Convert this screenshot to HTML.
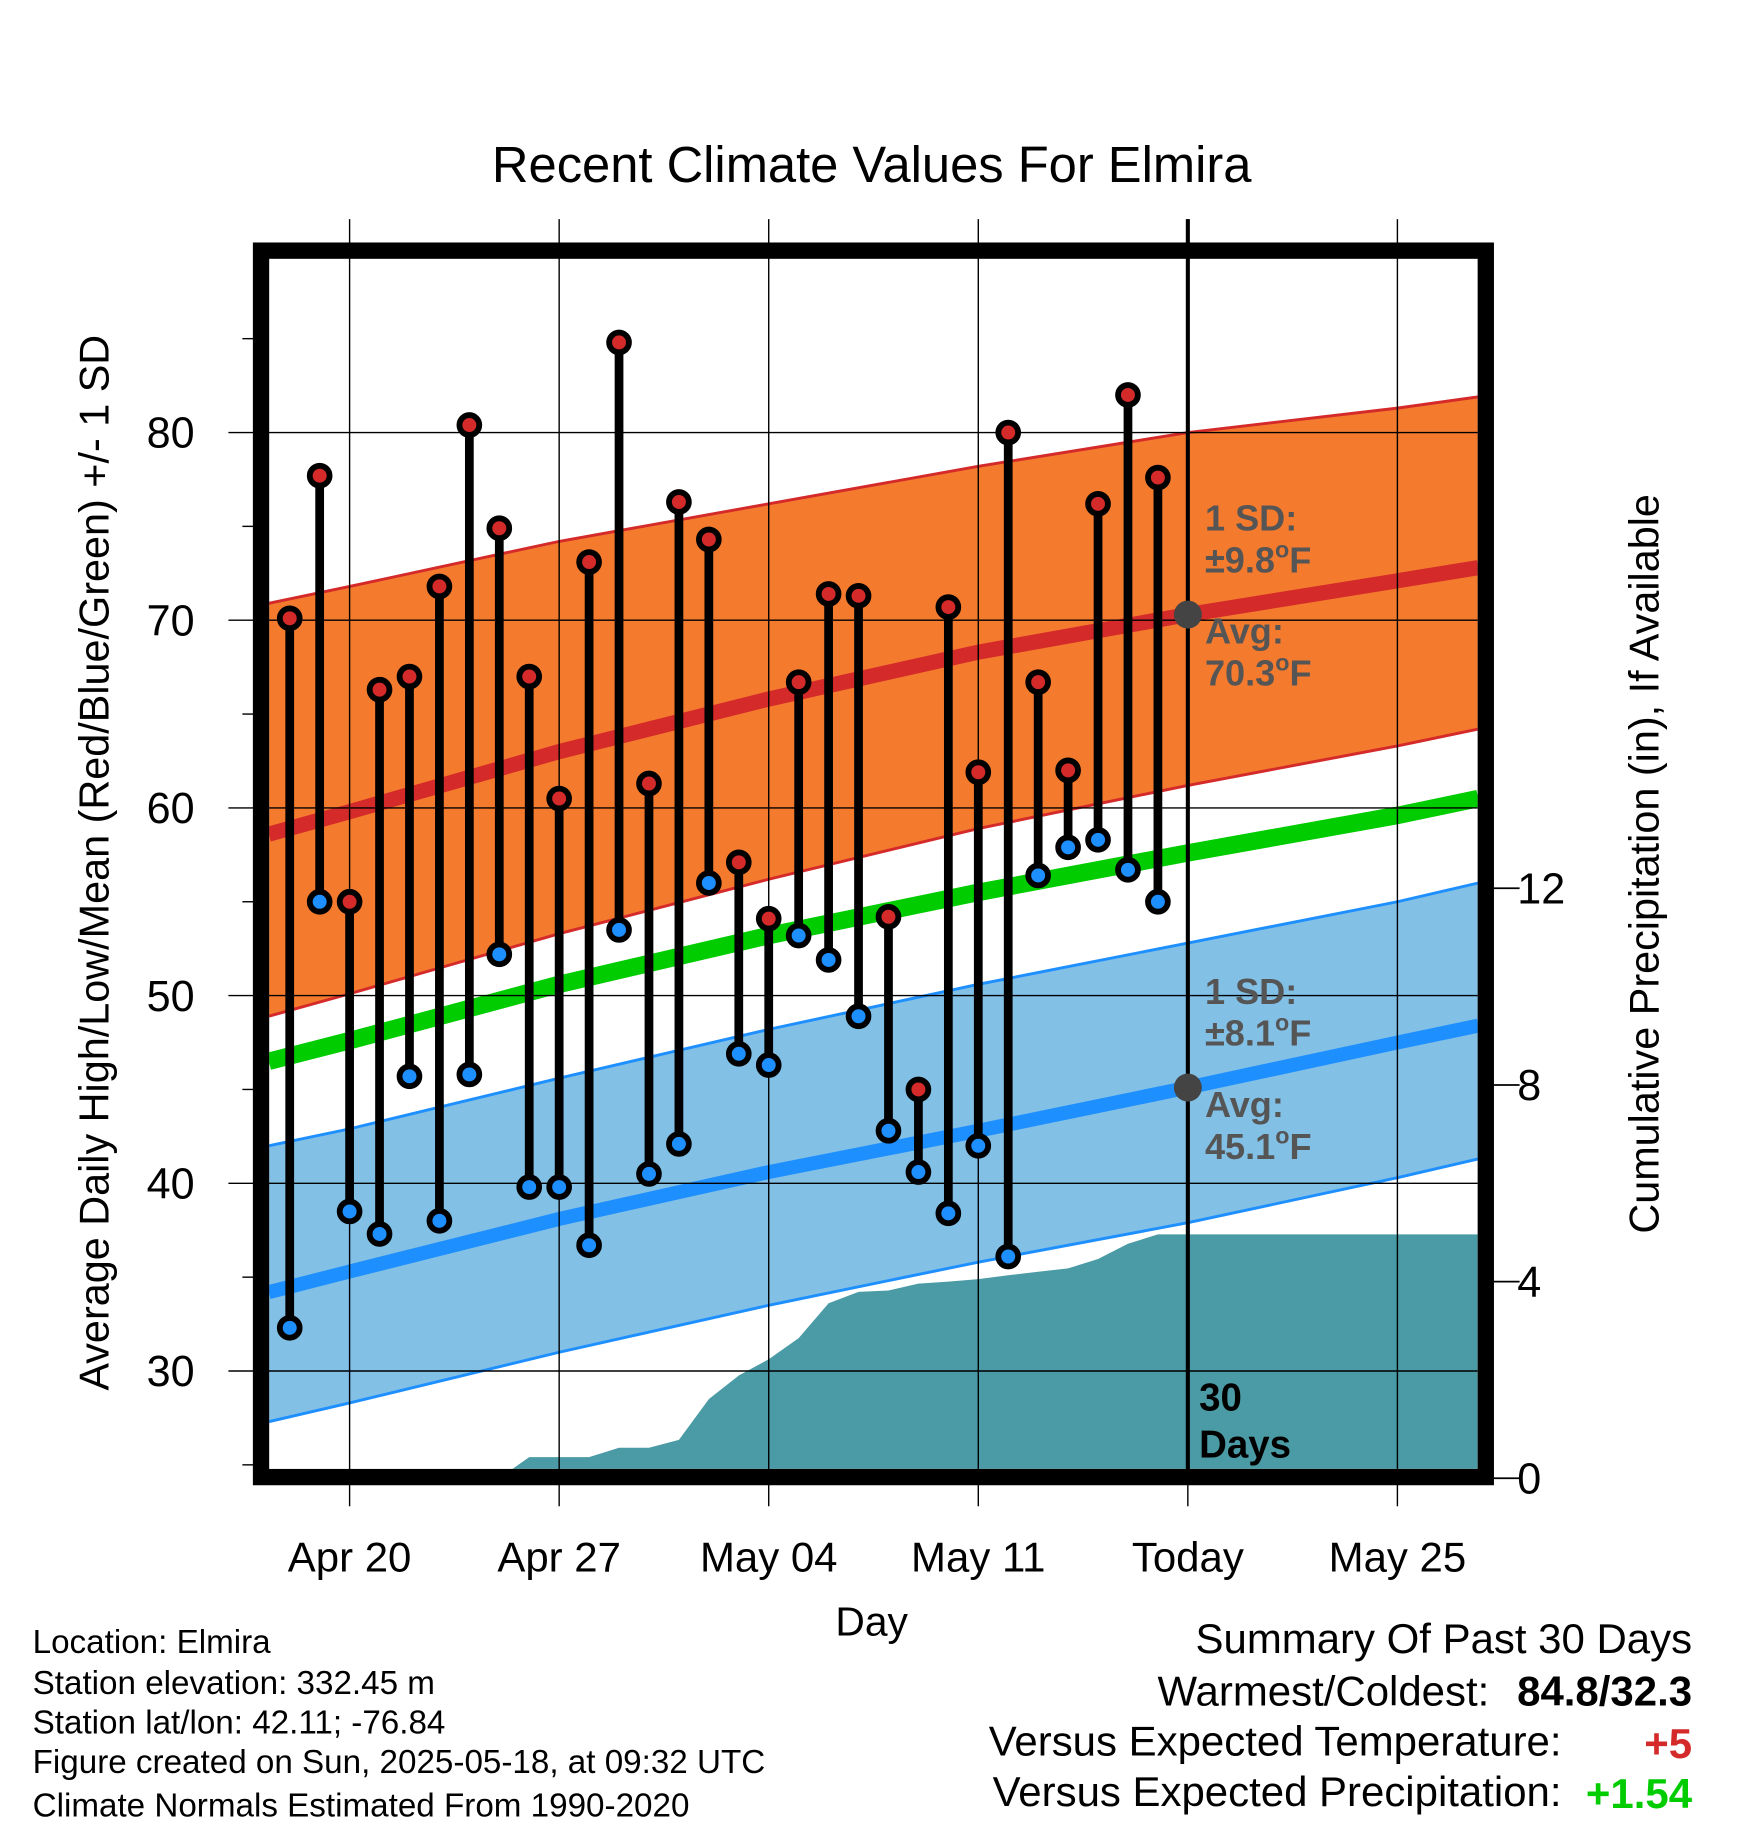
<!DOCTYPE html>
<html><head><meta charset="utf-8"><style>html,body{margin:0;padding:0;background:#fff}svg{display:block}text{font-family:"Liberation Sans",sans-serif}</style></head>
<body>
<svg id="chart" width="1748" height="1828" viewBox="0 0 1500 1568" preserveAspectRatio="none" xmlns="http://www.w3.org/2000/svg">
<defs><clipPath id="pc"><rect x="231" y="222" width="1037" height="1038"/></clipPath></defs>
<rect width="1500" height="1568" fill="#fff"/>
<text x="748" y="156" font-size="43.5" text-anchor="middle">Recent Climate Values For Elmira</text>
<g id="bands" clip-path="url(#pc)"></g>
<g id="grid"></g>
<g id="marks" clip-path="url(#pc)"></g>
<g id="frame"></g>
<g id="labels"></g>
<text transform="translate(93,740) rotate(-90)" font-size="35.5" text-anchor="middle">Average Daily High/Low/Mean (Red/Blue/Green) +/- 1 SD</text>
<text transform="translate(1423,741) rotate(-90)" font-size="35.5" text-anchor="middle">Cumulative Precipitation (in), If Available</text>
<text x="748" y="1403" font-size="35" text-anchor="middle">Day</text>
<g font-size="28.5">
<text x="28" y="1418">Location: Elmira</text>
<text x="28" y="1453">Station elevation: 332.45 m</text>
<text x="28" y="1487">Station lat/lon: 42.11; -76.84</text>
<text x="28" y="1521">Figure created on Sun, 2025-05-18, at 09:32 UTC</text>
<text x="28" y="1558">Climate Normals Estimated From 1990-2020</text>
</g>
<g font-size="36">
<text x="1452" y="1418" text-anchor="end">Summary Of Past 30 Days</text>
<text x="1278" y="1463" text-anchor="end">Warmest/Coldest:</text>
<text x="1452" y="1463" text-anchor="end" font-weight="bold">84.8/32.3</text>
<text x="1340" y="1506" text-anchor="end">Versus Expected Temperature:</text>
<text x="1452" y="1508" text-anchor="end" font-weight="bold" fill="#d42a2a">+5</text>
<text x="1340" y="1549" text-anchor="end">Versus Expected Precipitation:</text>
<text x="1452" y="1551" text-anchor="end" font-weight="bold" fill="#00cc00">+1.54</text>
</g>
</svg>
<script>
// data: day offsets relative to Apr 20
const highs=[70.1,77.7,55.0,66.3,67.0,71.8,80.4,74.9,67.0,60.5,73.1,84.8,61.3,76.3,74.3,57.1,54.1,66.7,71.4,71.3,54.2,45.0,70.7,61.9,80.0,66.7,62.0,76.2,82.0,77.6];
const lows=[32.3,55.0,38.5,37.3,45.7,38.0,45.8,52.2,39.8,39.8,36.7,53.5,40.5,42.1,56.0,46.9,46.3,53.2,51.9,48.9,42.8,40.6,38.4,42.0,36.1,56.4,57.9,58.3,56.7,55.0];
const precip=[0,0,0,0,0,0,0,0,0.43,0.43,0.43,0.62,0.62,0.78,1.61,2.09,2.42,2.85,3.56,3.79,3.82,3.96,4.0,4.05,4.13,4.2,4.27,4.46,4.77,4.96];
const normDays=[-2.7,0,7,14,21,28,35,37.7];
const sdHighTop=[70.9,71.8,74.2,76.2,78.2,80.0,81.3,81.9];
const avgHigh=[58.6,59.8,63.0,65.8,68.3,70.3,72.1,72.8];
const sdHighBot=[48.9,50.1,53.3,56.2,58.9,61.2,63.3,64.2];
const avgMean=[46.5,47.6,50.6,53.2,55.5,57.6,59.6,60.5];
const sdLowTop=[42.0,42.9,45.6,48.2,50.6,52.8,55.0,56.0];
const avgLow=[34.2,35.3,38.1,40.6,42.8,45.1,47.5,48.4];
const sdLowBot=[27.3,28.3,31.0,33.5,35.8,37.9,40.3,41.3];
const xTicks=["Apr 20","Apr 27","May 04","May 11","Today","May 25"];
const yTicks=[30,40,50,60,70,80];
const y2Ticks=[0,4,8,12];
const firstDay=-2;
const NS="http://www.w3.org/2000/svg";
const X=d=>300+d*25.69, Y=t=>371+(80-t)*16.1, P=p=>1268-p*42.17;
function mk(tag,at,parent){const e=document.createElementNS(NS,tag);for(const k in at)e.setAttribute(k,at[k]);parent.appendChild(e);return e;}
const bands=document.getElementById('bands'),grid=document.getElementById('grid'),marks=document.getElementById('marks'),frame=document.getElementById('frame'),labels=document.getElementById('labels');
function pts(arr){return normDays.map((d,i)=>X(d)+','+Y(arr[i]));}
function band(top,bot,fill,stroke,name){
  const p=mk('polygon',{points:pts(top).concat(pts(bot).reverse()).join(' '),fill:fill},bands);
  
  
  [top,bot].forEach(a=>{const l=mk('polyline',{points:pts(a).join(' '),fill:'none',stroke:stroke,'stroke-width':2.5},bands);
  
  });
}
band(sdHighTop,sdHighBot,'#f47a2e','#d42a2a','high-sd-band');
band(sdLowTop,sdLowBot,'#82c0e6','#1e8fff','low-sd-band');
function line(arr,c,w,name){const l=mk('polyline',{points:pts(arr).join(' '),fill:'none',stroke:c,'stroke-width':w},bands);

}
line(avgHigh,'#d42a2a',13,'avg-high-line');
line(avgMean,'#00cc00',15,'avg-mean-line');
line(avgLow,'#1e8fff',12,'avg-low-line');
let pp=[X(firstDay+7)+','+P(0)];
precip.forEach((v,i)=>{if(i>=7)pp.push(X(firstDay+i)+','+P(v));});
pp.push('1268,'+P(precip[precip.length-1]));pp.push('1268,1268');pp.push(X(firstDay+7)+',1268');
const pa=mk('polygon',{points:pp.join(' '),fill:'#4a9ba5'},bands);


xTicks.forEach((t,i)=>{const x=X(i*7);
 const g=mk('line',{x1:x,x2:x,y1:188,y2:1292,stroke:'#000','stroke-width':1.2},grid);
 
 
 const tx=mk('text',{x:x,y:1348,'font-size':36,'text-anchor':'middle'},labels);tx.textContent=t;
 
 });
yTicks.forEach(t=>{const y=Y(t);
 const g=mk('line',{x1:196,x2:1268,y1:y,y2:y,stroke:'#000','stroke-width':1.2},grid);
 
 
 const tx=mk('text',{x:167,y:y+13,'font-size':37,'text-anchor':'end'},labels);tx.textContent=t;
 
 });
for(let t=25;t<=90;t+=5){if(t%10){const y=Y(t);mk('line',{x1:208,x2:218,y1:y,y2:y,stroke:'#000','stroke-width':1.2},grid);}}
y2Ticks.forEach(t=>{const y=P(t);
 mk('line',{x1:1282,x2:1304,y1:y,y2:y,stroke:'#000','stroke-width':1.5},grid);
 const tx=mk('text',{x:1302,y:y+13,'font-size':37},labels);tx.textContent=t;
 
 });
const tl=mk('line',{x1:X(28),x2:X(28),y1:188,y2:1262,stroke:'#000','stroke-width':3.5},frame);


highs.forEach((h,i)=>{const x=X(firstDay+i);
 const s=mk('line',{x1:x,x2:x,y1:Y(h),y2:Y(lows[i]),stroke:'#000','stroke-width':7.5},marks);
 
 });
highs.forEach((h,i)=>{const x=X(firstDay+i);
 [[h,'#d42a2a','high-point'],[lows[i],'#1e8fff','low-point']].forEach(([v,c,n])=>{
  const d=mk('circle',{cx:x,cy:Y(v),r:8.5,fill:c,stroke:'#000','stroke-width':5},marks);
  
  });});
[[avgHigh[5]],[avgLow[5]]].forEach(([v])=>{const c=mk('circle',{cx:X(28),cy:Y(v),r:12,fill:'#444'},frame);
 
 });
const fr=mk('rect',{x:224,y:215,width:1051,height:1052,fill:'none',stroke:'#000','stroke-width':14},frame);


const ann=[['1 SD:','',455],['±9.8','F',491],['Avg:','',552],['70.3','F',588],['1 SD:','',861],['±8.1','F',897],['Avg:','',958],['45.1','F',994]];
ann.forEach(([t,u,y])=>{const e=mk('text',{x:1034,y:y,'font-size':31,'font-weight':'bold',fill:'#555'},labels);
 e.appendChild(document.createTextNode(t));
 if(u){const s=mk('tspan',{dy:-13,'font-size':20},e);s.textContent='o';const s2=mk('tspan',{dy:13},e);s2.textContent=u;}
 
 });
[['30',1210],['Days',1250]].forEach(([t,y])=>{const e=mk('text',{x:1029,y:y,'font-size':33,'font-weight':'bold',fill:'#000'},labels);e.textContent=t;
 
 });
</script>
</body></html>
